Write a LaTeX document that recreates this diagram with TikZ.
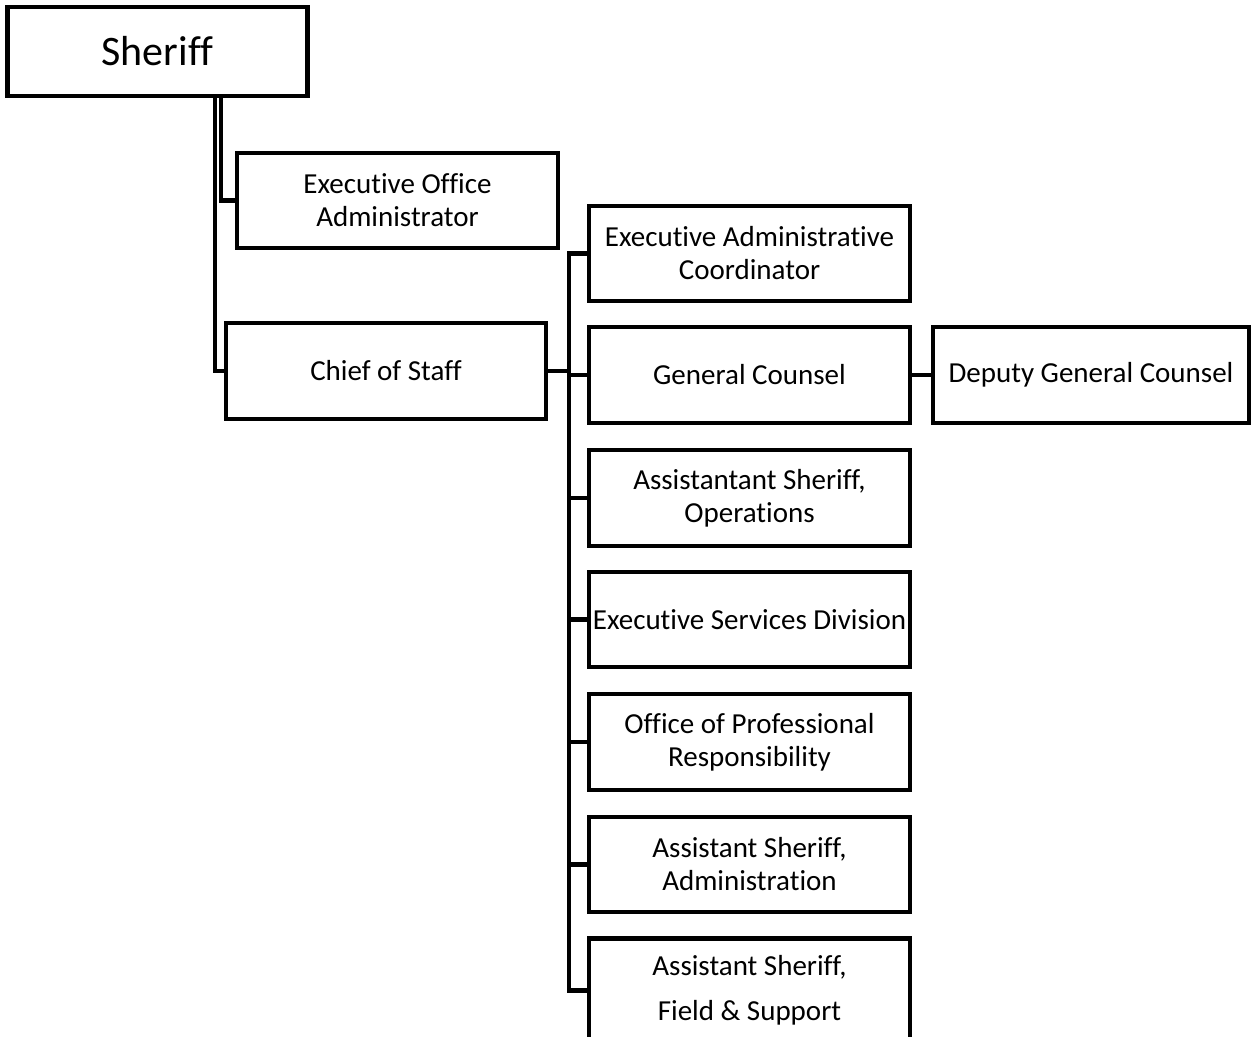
\documentclass[tikz,border=0pt]{standalone}
\usepackage{fontspec}
\setmainfont{Carlito}[Ligatures=NoCommon]
\begin{document}
\begin{tikzpicture}[x=0.75pt,y=-0.75pt,
  box/.style={draw, line width=3.6pt, align=center, inner sep=0pt, outer sep=0pt,
    font=\fontsize{21.75pt}{24.75pt}\selectfont},
  wire/.style={line width=3.6pt, line join=miter, line cap=rect}]
\clip (0,0) rectangle (1251,1036);
\fill[white] (0,0) rectangle (1251,1036);
% boxes
\node[box, minimum width=300*0.75pt, minimum height=89*0.75pt,
  font=\fontsize{31.5pt}{36pt}\selectfont] (sheriff) at (157.5,51.5) {Sheriff};
\node[box, minimum width=321*0.75pt, minimum height=95*0.75pt] (eoa) at (397.5,200.5) {Executive Office\\Administrator};
\node[box, minimum width=320*0.75pt, minimum height=96*0.75pt] (cos) at (386,371) {Chief of Staff};
\node[box, minimum width=321*0.75pt, minimum height=95*0.75pt] (eac) at (749.5,253.5) {Executive Administrative\\Coordinator};
\node[box, minimum width=321*0.75pt, minimum height=96*0.75pt] (gc) at (749.5,375) {General Counsel};
\node[box, minimum width=316*0.75pt, minimum height=96*0.75pt] (dgc) at (1091,375) {Deputy General Counsel};
\node[box, minimum width=321*0.75pt, minimum height=96*0.75pt] (aso) at (749.5,498) {Assistantant Sheriff,\\Operations};
\node[box, minimum width=321*0.75pt, minimum height=95*0.75pt] (esd) at (749.5,619.5) {Executive Services Division};
\node[box, minimum width=321*0.75pt, minimum height=96*0.75pt] (opr) at (749.5,742) {Office of Professional\\Responsibility};
\node[box, minimum width=321*0.75pt, minimum height=95*0.75pt] (asa) at (749.5,864.5) {Assistant Sheriff,\\Administration};
\node[box, minimum width=321*0.75pt, minimum height=104*0.75pt,
  font=\fontsize{21.75pt}{34pt}\selectfont] (asfs) at (749.5,990.5) {Assistant Sheriff,\\Field \& Support};
% connectors
\coordinate (s1) at (215,96);
\coordinate (s2) at (221,96);
\coordinate (bus) at (569,253.5);
\draw[wire] (s2) |- (eoa.west);
\draw[wire] (s1) |- (cos.west);
\draw[wire] (cos.east) -- (cos.east -| bus);
\draw[wire] (eac.west) -- (bus) |- (asfs.west);
\draw[wire] (gc.west) -- (gc.west -| bus);
\draw[wire] (aso.west) -- (aso.west -| bus);
\draw[wire] (esd.west) -- (esd.west -| bus);
\draw[wire] (opr.west) -- (opr.west -| bus);
\draw[wire] (asa.west) -- (asa.west -| bus);
\draw[wire] (gc.east) -- (dgc.west);
\end{tikzpicture}
\end{document}
